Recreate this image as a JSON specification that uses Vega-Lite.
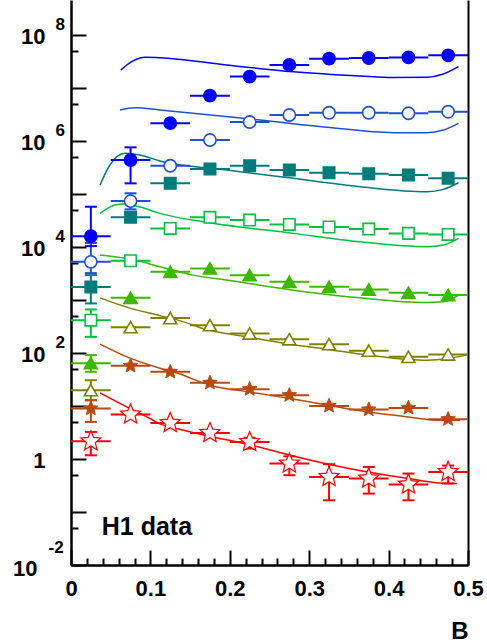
{
  "$schema": "https://vega.github.io/schema/vega-lite/v6.json",
  "width": 397,
  "height": 565,
  "autosize": {"type": "none"},
  "padding": {"left": 71, "top": 0, "right": 19, "bottom": 78},
  "background": "white",
  "config": {
    "view": {"stroke": null},
    "legend": {"disable": true},
    "axis": {"grid": false, "domainColor": "#000", "tickColor": "#000", "labelColor": "#000", "titleColor": "#000", "labelFont": "Liberation Sans", "titleFont": "Liberation Sans", "labelFontWeight": "bold", "titleFontWeight": "bold", "labelFlush": false, "labelOverlap": false, "labelBound": false}
  },
  "datasets": {
    "pts": [
      {"s":"s1","x":0.025,"xlo":0,"xhi":0.05,"y":15800,"lo":10300,"hi":56900},
      {"s":"s1","x":0.075,"xlo":0.05,"xhi":0.1,"y":433000,"lo":157000,"hi":750000},
      {"s":"s1","x":0.125,"xlo":0.1,"xhi":0.15,"y":2140000},
      {"s":"s1","x":0.175,"xlo":0.15,"xhi":0.2,"y":7080000},
      {"s":"s1","x":0.225,"xlo":0.2,"xhi":0.25,"y":16200000},
      {"s":"s1","x":0.275,"xlo":0.25,"xhi":0.3,"y":26900000},
      {"s":"s1","x":0.325,"xlo":0.3,"xhi":0.35,"y":35200000},
      {"s":"s1","x":0.375,"xlo":0.35,"xhi":0.4,"y":36300000},
      {"s":"s1","x":0.425,"xlo":0.4,"xhi":0.45,"y":37200000},
      {"s":"s1","x":0.475,"xlo":0.45,"xhi":0.5,"y":40700000},
      {"s":"s2","x":0.025,"xlo":0,"xhi":0.05,"y":5210,"lo":3190,"hi":11750},
      {"s":"s2","x":0.075,"xlo":0.05,"xhi":0.1,"y":72800,"lo":50800,"hi":102000},
      {"s":"s2","x":0.125,"xlo":0.1,"xhi":0.15,"y":337000},
      {"s":"s2","x":0.175,"xlo":0.15,"xhi":0.2,"y":1030000},
      {"s":"s2","x":0.225,"xlo":0.2,"xhi":0.25,"y":2250000},
      {"s":"s2","x":0.275,"xlo":0.25,"xhi":0.3,"y":3050000},
      {"s":"s2","x":0.325,"xlo":0.3,"xhi":0.35,"y":3370000},
      {"s":"s2","x":0.375,"xlo":0.35,"xhi":0.4,"y":3370000},
      {"s":"s2","x":0.425,"xlo":0.4,"xhi":0.45,"y":3290000},
      {"s":"s2","x":0.475,"xlo":0.45,"xhi":0.5,"y":3520000},
      {"s":"s3","x":0.025,"xlo":0,"xhi":0.05,"y":1740,"lo":855,"hi":2920},
      {"s":"s3","x":0.075,"xlo":0.05,"xhi":0.1,"y":35900},
      {"s":"s3","x":0.125,"xlo":0.1,"xhi":0.15,"y":157000},
      {"s":"s3","x":0.175,"xlo":0.15,"xhi":0.2,"y":292000},
      {"s":"s3","x":0.225,"xlo":0.2,"xhi":0.25,"y":337000},
      {"s":"s3","x":0.275,"xlo":0.25,"xhi":0.3,"y":280000},
      {"s":"s3","x":0.325,"xlo":0.3,"xhi":0.35,"y":249000},
      {"s":"s3","x":0.375,"xlo":0.35,"xhi":0.4,"y":238000},
      {"s":"s3","x":0.425,"xlo":0.4,"xhi":0.45,"y":225000},
      {"s":"s3","x":0.475,"xlo":0.45,"xhi":0.5,"y":195000},
      {"s":"s4","x":0.025,"xlo":0,"xhi":0.05,"y":414,"lo":200,"hi":659},
      {"s":"s4","x":0.075,"xlo":0.05,"xhi":0.1,"y":5450},
      {"s":"s4","x":0.125,"xlo":0.1,"xhi":0.15,"y":22200},
      {"s":"s4","x":0.175,"xlo":0.15,"xhi":0.2,"y":35900},
      {"s":"s4","x":0.225,"xlo":0.2,"xhi":0.25,"y":31900},
      {"s":"s4","x":0.275,"xlo":0.25,"xhi":0.3,"y":26400},
      {"s":"s4","x":0.325,"xlo":0.3,"xhi":0.35,"y":23600},
      {"s":"s4","x":0.375,"xlo":0.35,"xhi":0.4,"y":21600},
      {"s":"s4","x":0.425,"xlo":0.4,"xhi":0.45,"y":17900},
      {"s":"s4","x":0.475,"xlo":0.45,"xhi":0.5,"y":17100},
      {"s":"s5","x":0.025,"xlo":0,"xhi":0.05,"y":64.0,"lo":43.9,"hi":90.6},
      {"s":"s5","x":0.075,"xlo":0.05,"xhi":0.1,"y":1090},
      {"s":"s5","x":0.125,"xlo":0.1,"xhi":0.15,"y":3370},
      {"s":"s5","x":0.175,"xlo":0.15,"xhi":0.2,"y":3910},
      {"s":"s5","x":0.225,"xlo":0.2,"xhi":0.25,"y":2920},
      {"s":"s5","x":0.275,"xlo":0.25,"xhi":0.3,"y":2190},
      {"s":"s5","x":0.325,"xlo":0.3,"xhi":0.35,"y":1760},
      {"s":"s5","x":0.375,"xlo":0.35,"xhi":0.4,"y":1570},
      {"s":"s5","x":0.425,"xlo":0.4,"xhi":0.45,"y":1360},
      {"s":"s5","x":0.475,"xlo":0.45,"xhi":0.5,"y":1230},
      {"s":"s6","x":0.025,"xlo":0,"xhi":0.05,"y":19.8,"lo":12.8,"hi":30.5},
      {"s":"s6","x":0.075,"xlo":0.05,"xhi":0.1,"y":305},
      {"s":"s6","x":0.125,"xlo":0.1,"xhi":0.15,"y":452},
      {"s":"s6","x":0.175,"xlo":0.15,"xhi":0.2,"y":333},
      {"s":"s6","x":0.225,"xlo":0.2,"xhi":0.25,"y":232},
      {"s":"s6","x":0.275,"xlo":0.25,"xhi":0.3,"y":181},
      {"s":"s6","x":0.325,"xlo":0.3,"xhi":0.35,"y":146},
      {"s":"s6","x":0.375,"xlo":0.35,"xhi":0.4,"y":110},
      {"s":"s6","x":0.425,"xlo":0.4,"xhi":0.45,"y":84.1},
      {"s":"s6","x":0.475,"xlo":0.45,"xhi":0.5,"y":93.3},
      {"s":"s7","x":0.025,"xlo":0,"xhi":0.05,"y":8.93,"lo":4.99,"hi":12.8},
      {"s":"s7","x":0.075,"xlo":0.05,"xhi":0.1,"y":56.9},
      {"s":"s7","x":0.125,"xlo":0.1,"xhi":0.15,"y":43.9},
      {"s":"s7","x":0.175,"xlo":0.15,"xhi":0.2,"y":27.2},
      {"s":"s7","x":0.225,"xlo":0.2,"xhi":0.25,"y":20.7},
      {"s":"s7","x":0.275,"xlo":0.25,"xhi":0.3,"y":15.9},
      {"s":"s7","x":0.325,"xlo":0.3,"xhi":0.35,"y":10.0},
      {"s":"s7","x":0.375,"xlo":0.35,"xhi":0.4,"y":8.55},
      {"s":"s7","x":0.425,"xlo":0.4,"xhi":0.45,"y":9.16},
      {"s":"s7","x":0.475,"xlo":0.45,"xhi":0.5,"y":5.61},
      {"s":"s8","x":0.025,"xlo":0,"xhi":0.05,"y":2.16,"lo":1.17,"hi":3.23},
      {"s":"s8","x":0.075,"xlo":0.05,"xhi":0.1,"y":6.89},
      {"s":"s8","x":0.125,"xlo":0.1,"xhi":0.15,"y":4.78},
      {"s":"s8","x":0.175,"xlo":0.15,"xhi":0.2,"y":3.09},
      {"s":"s8","x":0.225,"xlo":0.2,"xhi":0.25,"y":2.09,"lo":1.57,"hi":2.5},
      {"s":"s8","x":0.275,"xlo":0.25,"xhi":0.3,"y":0.818,"lo":0.493,"hi":1.12},
      {"s":"s8","x":0.325,"xlo":0.3,"xhi":0.35,"y":0.457,"lo":0.166,"hi":0.794},
      {"s":"s8","x":0.375,"xlo":0.35,"xhi":0.4,"y":0.427,"lo":0.222,"hi":0.706},
      {"s":"s8","x":0.425,"xlo":0.4,"xhi":0.45,"y":0.329,"lo":0.166,"hi":0.53},
      {"s":"s8","x":0.475,"xlo":0.45,"xhi":0.5,"y":0.569,"lo":0.344,"hi":0.75}
    ],
    "curves": [
      {"s":"s1","x":0.063,"y":21600000},{"s":"s1","x":0.0702,"y":26800000},{"s":"s1","x":0.0932,"y":37500000},{"s":"s1","x":0.112,"y":36800000},{"s":"s1","x":0.196,"y":26800000},{"s":"s1","x":0.28,"y":20000000},{"s":"s1","x":0.364,"y":16600000},{"s":"s1","x":0.406,"y":15500000},{"s":"s1","x":0.448,"y":15700000},{"s":"s1","x":0.469,"y":18100000},{"s":"s1","x":0.488,"y":24900000},
      {"s":"s2","x":0.0617,"y":3790000},{"s":"s2","x":0.0806,"y":4200000},{"s":"s2","x":0.112,"y":3790000},{"s":"s2","x":0.238,"y":2460000},{"s":"s2","x":0.322,"y":1800000},{"s":"s2","x":0.406,"y":1420000},{"s":"s2","x":0.448,"y":1420000},{"s":"s2","x":0.469,"y":1590000},{"s":"s2","x":0.488,"y":2130000},
      {"s":"s3","x":0.0365,"y":146000},{"s":"s3","x":0.049,"y":348000},{"s":"s3","x":0.068,"y":578000},{"s":"s3","x":0.087,"y":537000},{"s":"s3","x":0.112,"y":414000},{"s":"s3","x":0.196,"y":280000},{"s":"s3","x":0.28,"y":195000},{"s":"s3","x":0.364,"y":136000},{"s":"s3","x":0.448,"y":109000},{"s":"s3","x":0.469,"y":121000},{"s":"s3","x":0.488,"y":161000},
      {"s":"s4","x":0.0365,"y":42700},{"s":"s4","x":0.0554,"y":61200},{"s":"s4","x":0.068,"y":64000},{"s":"s4","x":0.087,"y":56100},{"s":"s4","x":0.112,"y":42700},{"s":"s4","x":0.175,"y":28400},{"s":"s4","x":0.28,"y":17900},{"s":"s4","x":0.364,"y":12400},{"s":"s4","x":0.448,"y":10000},{"s":"s4","x":0.469,"y":10800},{"s":"s4","x":0.488,"y":14400},
      {"s":"s5","x":0.0365,"y":6970},{"s":"s5","x":0.0806,"y":5610},{"s":"s5","x":0.112,"y":4200},{"s":"s5","x":0.137,"y":3370},{"s":"s5","x":0.154,"y":2920},{"s":"s5","x":0.196,"y":2360},{"s":"s5","x":0.28,"y":1520},{"s":"s5","x":0.364,"y":1090},{"s":"s5","x":0.448,"y":893},{"s":"s5","x":0.469,"y":916},{"s":"s5","x":0.488,"y":1230},
      {"s":"s6","x":0.0365,"y":1090},{"s":"s6","x":0.0743,"y":697},{"s":"s6","x":0.112,"y":504},{"s":"s6","x":0.137,"y":405},{"s":"s6","x":0.1667,"y":286},{"s":"s6","x":0.223,"y":200},{"s":"s6","x":0.276,"y":146},{"s":"s6","x":0.324,"y":116},{"s":"s6","x":0.374,"y":90.6},{"s":"s6","x":0.425,"y":75.0},{"s":"s6","x":0.448,"y":72.8},{"s":"s6","x":0.475,"y":78.3},{"s":"s6","x":0.498,"y":90.6},
      {"s":"s7","x":0.0365,"y":146},{"s":"s7","x":0.0743,"y":79.4},{"s":"s7","x":0.112,"y":51.3},{"s":"s7","x":0.137,"y":39.8},{"s":"s7","x":0.175,"y":24.6},{"s":"s7","x":0.223,"y":18.4},{"s":"s7","x":0.276,"y":13.8},{"s":"s7","x":0.324,"y":10.3},{"s":"s7","x":0.374,"y":7.71},{"s":"s7","x":0.425,"y":6.19},{"s":"s7","x":0.4605,"y":5.37},{"s":"s7","x":0.49,"y":5.37},
      {"s":"s8","x":0.0365,"y":17.6},{"s":"s8","x":0.0743,"y":8.91},{"s":"s8","x":0.0995,"y":5.78},{"s":"s8","x":0.112,"y":4.57},{"s":"s8","x":0.137,"y":3.63},{"s":"s8","x":0.175,"y":2.66},{"s":"s8","x":0.223,"y":1.89},{"s":"s8","x":0.276,"y":1.17},{"s":"s8","x":0.324,"y":0.794},{"s":"s8","x":0.374,"y":0.569},{"s":"s8","x":0.425,"y":0.427},{"s":"s8","x":0.465,"y":0.352},{"s":"s8","x":0.486,"y":0.344}
    ],
    "lab": [{"x":0.0387,"y":0.0368,"t":"H1 data"}]
  },
  "resolve": {"axis": {"x": "independent", "y": "independent"}},
  "layer": [
    {
      "data": {"name": "curves"},
      "mark": {"type": "line", "strokeWidth": 1.5, "interpolate": "monotone"},
      "encoding": {
        "x": {"field": "x", "type": "quantitative", "scale": {"type": "linear", "domain": [0, 0.5], "nice": false, "zero": false},
              "axis": {"orient": "bottom", "values": [0, 0.1, 0.2, 0.3, 0.4, 0.5], "tickSize": -15, "tickWidth": 2, "labels": false, "domainWidth": 2.5, "title": null}},
        "y": {"field": "y", "type": "quantitative", "scale": {"type": "log", "domain": [0.01, 450000000], "nice": false},
              "axis": {"orient": "left", "values": [0.01, 0.1, 1, 10, 100, 1000, 10000, 100000, 1000000, 10000000, 100000000], "tickSize": -15, "tickWidth": 2, "labels": false, "domainWidth": 2.5, "title": null}},
        "stroke": {"field": "s", "type": "nominal", "scale": {"domain": ["s1","s2","s3","s4","s5","s6","s7","s8"], "range": ["#0000ff","#1f50d0","#007b7b","#00c040","#3cb800","#808000","#b84a10","#ff0000"]}}
      }
    },
    {
      "data": {"name": "pts"},
      "mark": {"type": "rule", "strokeWidth": 2},
      "encoding": {
        "x": {"field": "xlo", "type": "quantitative", "axis": {"orient": "bottom", "values": [0.02,0.04,0.06,0.08,0.12,0.14,0.16,0.18,0.22,0.24,0.26,0.28,0.32,0.34,0.36,0.38,0.42,0.44,0.46,0.48], "tickSize": -7, "tickWidth": 2, "labels": false, "domain": false, "title": null}},
        "x2": {"field": "xhi"},
        "y": {"field": "y", "type": "quantitative", "axis": {"orient": "left", "values": [0.05, 0.5, 5, 50, 500, 5000, 50000, 500000, 5000000, 50000000], "tickSize": -7, "tickWidth": 2, "labels": false, "domain": false, "title": null}},
        "stroke": {"field": "s", "type": "nominal"}
      }
    },
    {
      "data": {"name": "pts"},
      "transform": [{"filter": "isValid(datum.lo)"}],
      "mark": {"type": "rule", "strokeWidth": 2},
      "encoding": {
        "x": {"field": "x", "type": "quantitative", "axis": {"orient": "bottom", "values": [0, 0.1, 0.2, 0.3, 0.4, 0.5], "ticks": false, "tickSize": 0, "domain": false, "labelFontSize": 22, "labelPadding": 13, "labelExpr": "datum.value == 0 ? '0' : format(datum.value, '.1f')", "title": "B", "titleFontSize": 24, "titleX": 397, "titleY": 73, "titleAlign": "right", "titleBaseline": "alphabetic", "titleAngle": 0}},
        "y": {"field": "lo", "type": "quantitative", "axis": {"orient": "left", "values": [0.01, 1, 100, 10000, 1000000, 100000000], "ticks": false, "tickSize": 0, "domain": false, "labelFontSize": 22, "labelAlign": "right", "labelExpr": "datum.value == 1 ? '1' : '10'", "labelPadding": {"condition": {"test": "datum.value < 0.1", "value": 34}, "value": 26}, "labelOffset": {"condition": {"test": "datum.value < 0.1", "value": 3}, "value": 1.5}, "title": null}},
        "y2": {"field": "hi"},
        "stroke": {"field": "s", "type": "nominal"}
      }
    },
    {
      "data": {"name": "pts"},
      "transform": [{"filter": "isValid(datum.lo)"}],
      "mark": {"type": "point", "shape": "stroke", "size": 144, "strokeWidth": 2, "filled": false, "opacity": 1},
      "encoding": {
        "x": {"field": "x", "type": "quantitative", "axis": null},
        "y": {"field": "lo", "type": "quantitative", "axis": {"orient": "left", "values": [0.01, 100, 10000, 1000000, 100000000], "ticks": false, "tickSize": 0, "domain": false, "labelFontSize": 17, "labelAlign": "left", "labelExpr": "'' + round(log(datum.value) / LN10)", "labelPadding": {"condition": {"test": "datum.value < 0.1", "value": 23}, "value": 16}, "labelOffset": {"condition": {"test": "datum.value < 0.1", "value": -17.5}, "value": -10}, "title": null}},
        "stroke": {"field": "s", "type": "nominal"}
      }
    },
    {
      "data": {"name": "pts"},
      "transform": [{"filter": "isValid(datum.hi)"}],
      "mark": {"type": "point", "shape": "stroke", "size": 144, "strokeWidth": 2, "filled": false, "opacity": 1},
      "encoding": {
        "x": {"field": "x", "type": "quantitative", "axis": null},
        "y": {"field": "hi", "type": "quantitative", "axis": {"orient": "right", "domain": true, "domainWidth": 2, "ticks": false, "labels": false, "title": null}},
        "stroke": {"field": "s", "type": "nominal"}
      }
    },
    {
      "data": {"name": "pts"},
      "mark": {"type": "point", "filled": true, "opacity": 1},
      "encoding": {
        "x": {"field": "x", "type": "quantitative", "axis": null},
        "y": {"field": "y", "type": "quantitative", "axis": null},
        "stroke": {"field": "s", "type": "nominal"},
        "fill": {"field": "s", "type": "nominal", "scale": {"domain": ["s1","s2","s3","s4","s5","s6","s7","s8"], "range": ["#0000ff","#ffffff","#007b7b","#ffffff","#3cb800","#ffffff","#b84a10","#ffffff"]}},
        "shape": {"field": "s", "type": "nominal", "scale": {"domain": ["s1","s2","s3","s4","s5","s6","s7","s8"], "range": ["circle","circle","square","square","triangle-up","triangle-up","M0,-1L0.2645,-0.364L0.951,-0.309L0.428,0.139L0.588,0.809L0,0.45L-0.588,0.809L-0.428,0.139L-0.951,-0.309L-0.2645,-0.364Z","M0,-1L0.2645,-0.364L0.951,-0.309L0.428,0.139L0.588,0.809L0,0.45L-0.588,0.809L-0.428,0.139L-0.951,-0.309L-0.2645,-0.364Z"]}},
        "size": {"field": "s", "type": "nominal", "scale": {"type": "ordinal", "domain": ["s1","s2","s3","s4","s5","s6","s7","s8"], "range": [150,150,130,130,170,170,230,440]}},
        "strokeWidth": {"field": "s", "type": "nominal", "scale": {"type": "ordinal", "domain": ["s1","s2","s3","s4","s5","s6","s7","s8"], "range": [1.6,1.6,1.6,1.6,1.6,1.6,1,1.2]}}
      }
    },
    {
      "data": {"name": "lab"},
      "mark": {"type": "text", "align": "left", "baseline": "alphabetic", "font": "Liberation Sans", "fontWeight": "bold", "fontSize": 25, "color": "#000"},
      "encoding": {
        "x": {"field": "x", "type": "quantitative", "axis": null},
        "y": {"field": "y", "type": "quantitative", "axis": null},
        "text": {"field": "t"}
      }
    }
  ]
}
